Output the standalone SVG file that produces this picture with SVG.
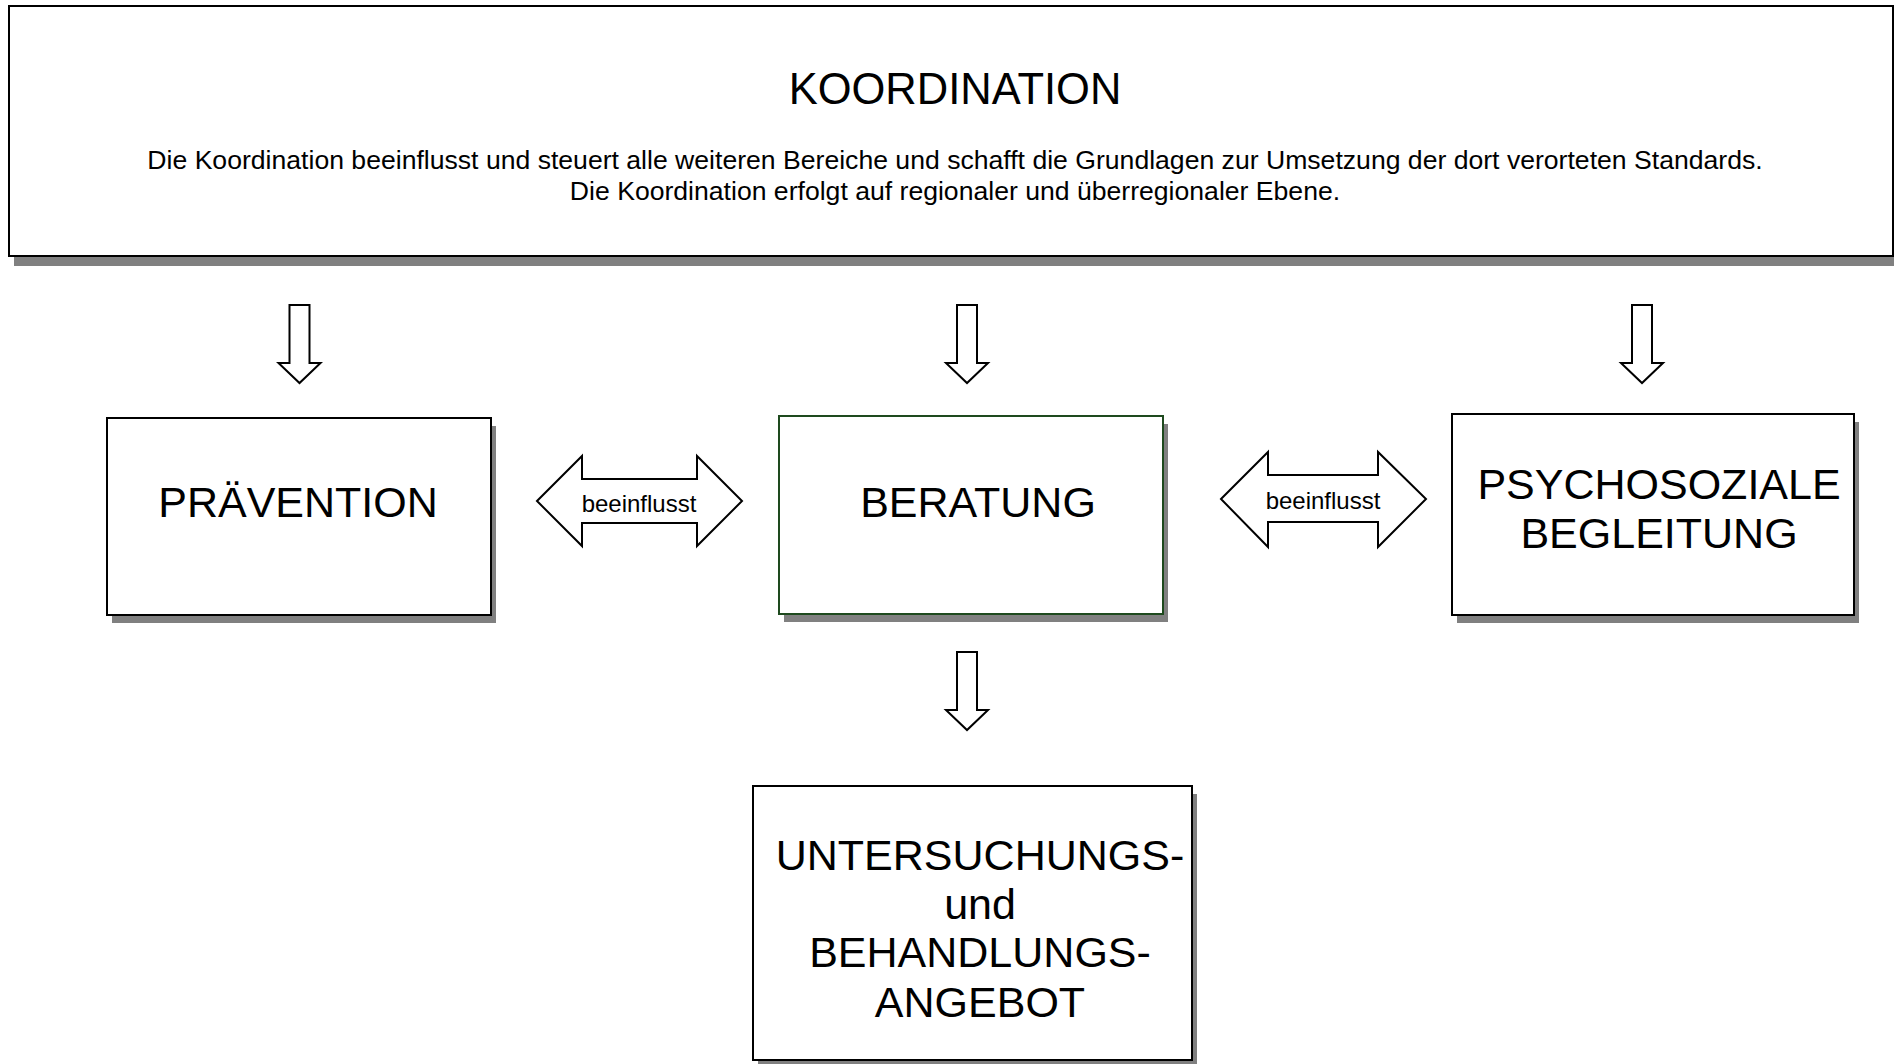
<svg xmlns="http://www.w3.org/2000/svg" width="1894" height="1064" viewBox="0 0 1894 1064">
<style>
.box{fill:#fff;stroke:#000;stroke-width:2}
.shadow{fill:#808080}
.t{font-family:"Liberation Sans",Arial,sans-serif;fill:#000;text-anchor:middle}
.big{font-size:43px}
.small{font-size:26.6px}
.lbl{font-size:24px}
.arr{fill:#fff;stroke:#000;stroke-width:2;stroke-linejoin:miter}
</style>
<defs>
<path id="down" d="M-10,0 H10 V58 H21 L0,78 L-21,58 H-10 Z"/>
</defs>
<rect width="1894" height="1064" fill="#fff"/>
<g id="koordination">
<rect class="shadow" x="14" y="14" width="1884" height="252"/>
<rect class="box" x="9" y="6" width="1884" height="250"/>
<text class="t big" x="955" y="104" style="font-size:43.5px">KOORDINATION</text>
<text class="t small" x="955" y="169">Die Koordination beeinflusst und steuert alle weiteren Bereiche und schafft die Grundlagen zur Umsetzung der dort verorteten Standards.</text>
<text class="t small" x="955" y="200">Die Koordination erfolgt auf regionaler und überregionaler Ebene.</text>
</g>
<g id="praevention">
<rect class="shadow" x="112" y="426" width="384" height="197"/>
<rect class="box" x="107" y="418" width="384" height="197"/>
<text class="t big" x="298" y="517">PRÄVENTION</text>
</g>
<g id="beratung">
<rect class="shadow" x="784" y="424" width="384" height="198"/>
<rect class="box" x="779" y="416" width="384" height="198" style="stroke:#1e4a1e"/>
<text class="t big" x="978" y="517">BERATUNG</text>
</g>
<g id="psychosoziale">
<rect class="shadow" x="1457" y="422" width="402" height="201"/>
<rect class="box" x="1452" y="414" width="402" height="201"/>
<text class="t big" x="1659" y="499">PSYCHOSOZIALE</text>
<text class="t big" x="1659" y="548">BEGLEITUNG</text>
</g>
<g id="untersuchung">
<rect class="shadow" x="758" y="794" width="439" height="274"/>
<rect class="box" x="753" y="786" width="439" height="274"/>
<text class="t big" x="980" y="870">UNTERSUCHUNGS-</text>
<text class="t big" x="980" y="919">und</text>
<text class="t big" x="980" y="967">BEHANDLUNGS-</text>
<text class="t big" x="980" y="1017">ANGEBOT</text>
</g>
<g id="connectors">
<use href="#down" class="arr" x="299.5" y="305"/>
<use href="#down" class="arr" x="967" y="305"/>
<use href="#down" class="arr" x="1642" y="305"/>
<use href="#down" class="arr" x="967" y="652"/>
<g id="dbl1">
<path class="arr" d="M537,501 L582,456 V479 H697 V456 L742,501 L697,546 V523 H582 V546 Z"/>
<text class="t lbl" x="639" y="512">beeinflusst</text>
</g>
<g id="dbl2">
<path class="arr" d="M1221,499 L1268,452 V475 H1378 V452 L1426,499 L1378,547 V522 H1268 V547 Z"/>
<text class="t lbl" x="1323" y="509">beeinflusst</text>
</g>
</g>
</svg>
